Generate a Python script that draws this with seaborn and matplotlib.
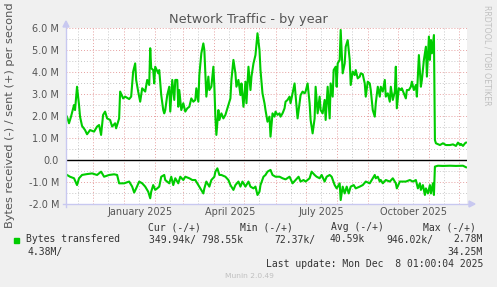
import matplotlib
matplotlib.use("Agg")
import matplotlib.pyplot as plt
import matplotlib.dates as mdates
from matplotlib.ticker import MultipleLocator, NullFormatter, FuncFormatter
from matplotlib.patches import Polygon, Rectangle
from matplotlib.lines import Line2D
import matplotlib.transforms as mtransforms
import seaborn as sns
import pandas as pd
import numpy as np

# ---------------- data (values in M bytes/s) ----------------
window_start = "2024-11-04"
window_days = 400

sent_days = [1, 3, 5, 8, 9, 11, 13, 14, 16, 19, 21, 24, 28, 31, 33, 35, 37, 39, 41, 44,
             46, 49, 50, 53, 54, 57, 59, 63, 65, 67, 69, 70, 72, 74, 76, 79, 81, 83, 84, 85,
             87, 88, 89, 92, 93, 95, 97, 98, 99, 101, 103, 104, 106, 108, 109, 111, 112, 113, 115, 117,
             119, 121, 123, 125, 127, 129, 130, 132, 133, 135, 137, 138, 140, 142, 143, 145, 147, 148, 149, 150,
             152, 153, 155, 157, 159, 160, 162, 164, 165, 167, 169, 170, 172, 174, 175, 177, 179, 180, 182, 184,
             185, 187, 189, 191, 193, 194, 196, 198, 199, 201, 203, 204, 206, 208, 209, 211, 213, 214, 216, 218,
             219, 221, 223, 224, 226, 228, 229, 231, 233, 234, 236, 238, 239, 241, 243, 244, 246, 248, 249, 251,
             253, 254, 256, 258, 259, 261, 263, 264, 266, 267, 269, 270, 271, 273, 274, 276, 278, 279, 281, 283,
             284, 286, 288, 289, 291, 293, 294, 296, 298, 299, 301, 303, 304, 306, 308, 309, 311, 313, 314, 316,
             318, 319, 321, 323, 324, 326, 328, 329, 330, 332, 334, 335, 337, 339, 340, 342, 344, 345, 347, 349,
             350, 352, 354, 355, 357, 359, 360, 362, 363, 364, 365, 367, 368, 369, 373, 376, 379, 383, 386, 389,
             391, 393, 394, 396, 398, 399]
sent_values = [1.97, 1.67, 1.97, 2.50, 2.27, 3.33, 2.50, 1.97, 1.55, 1.36, 1.17, 1.36, 1.29, 1.52, 1.59, 1.14, 2.05, 2.20, 1.89, 1.82,
               1.52, 1.67, 1.44, 1.89, 3.11, 2.80, 2.88, 2.77, 2.88, 4.02, 4.39, 3.64, 3.11, 2.65, 3.26, 3.11, 3.64, 3.41, 5.08, 4.17,
               4.09, 3.48, 4.24, 3.94, 4.09, 2.95, 2.27, 2.12, 2.27, 2.95, 3.33, 2.20, 3.64, 2.73, 3.64, 3.64, 2.42, 3.18, 2.27, 2.58,
               2.20, 2.35, 2.42, 2.80, 2.65, 2.73, 3.26, 2.65, 3.86, 4.85, 5.30, 5.00, 2.88, 3.79, 3.18, 3.33, 4.24, 3.33, 1.97, 1.14,
               2.27, 1.82, 2.12, 1.89, 2.05, 2.20, 2.50, 2.80, 3.64, 4.55, 3.94, 3.33, 3.64, 2.95, 3.48, 2.42, 3.56, 2.58, 4.24, 3.18,
               3.79, 4.39, 4.77, 5.76, 5.00, 4.09, 3.03, 2.58, 2.27, 1.74, 1.97, 1.06, 2.12, 1.97, 2.20, 2.05, 2.12, 1.97, 2.12, 2.35,
               2.65, 2.73, 2.88, 2.58, 3.03, 3.48, 2.95, 1.89, 2.58, 2.95, 3.11, 3.03, 3.11, 3.48, 2.58, 1.82, 1.21, 1.89, 3.33, 2.12,
               2.88, 2.27, 2.12, 2.73, 1.82, 3.33, 1.89, 3.48, 2.88, 4.09, 4.24, 3.33, 4.39, 4.55, 5.91, 3.94, 4.39, 5.15, 5.45, 4.55,
               3.41, 4.02, 3.86, 4.09, 3.71, 3.79, 3.94, 3.90, 3.48, 2.88, 3.56, 3.48, 3.18, 2.27, 1.97, 2.58, 3.33, 2.88, 3.33, 3.11,
               3.64, 2.88, 3.03, 2.65, 3.33, 2.73, 3.11, 4.24, 2.35, 3.26, 3.18, 3.26, 3.03, 2.80, 3.18, 3.18, 3.33, 3.56, 3.18, 3.41,
               2.88, 4.77, 3.33, 3.64, 4.55, 5.15, 3.79, 5.61, 4.55, 5.45, 4.85, 5.68, 0.91, 0.76, 0.68, 0.76, 0.68, 0.68, 0.71, 0.64,
               0.79, 0.68, 0.73, 0.64, 0.76, 0.79]

recv_days = [1, 4, 8, 11, 13, 16, 21, 26, 31, 35, 38, 43, 48, 51, 53, 58, 63, 66, 68, 70,
             73, 76, 79, 82, 84, 85, 87, 89, 91, 93, 95, 98, 99, 103, 105, 107, 109, 112, 114, 117,
             119, 123, 126, 129, 132, 134, 137, 138, 140, 143, 145, 148, 149, 151, 153, 155, 159, 162, 164, 167,
             169, 172, 174, 176, 179, 182, 184, 187, 189, 191, 193, 194, 197, 199, 201, 204, 206, 209, 213, 216,
             219, 223, 226, 229, 232, 234, 237, 239, 243, 245, 248, 250, 253, 255, 258, 260, 263, 265, 268, 270,
             273, 274, 276, 278, 280, 282, 284, 287, 289, 293, 296, 299, 303, 306, 308, 309, 311, 313, 314, 316,
             319, 323, 326, 329, 330, 333, 336, 339, 343, 346, 349, 351, 353, 354, 356, 358, 359, 361, 363, 364,
             366, 367, 368, 371, 376, 383, 389, 396, 399]
recv_values = [0.68, 0.76, 0.83, 1.14, 0.83, 0.68, 0.64, 0.61, 0.68, 0.53, 0.76, 0.68, 0.65, 0.68, 1.06, 1.06, 0.98, 1.21, 1.48, 1.29,
               0.98, 1.06, 1.21, 1.44, 1.74, 1.44, 1.14, 1.36, 1.29, 1.21, 0.76, 0.68, 0.91, 1.06, 0.76, 1.14, 0.83, 1.06, 0.76, 0.91,
               0.76, 0.83, 0.91, 0.91, 1.14, 1.29, 1.52, 1.29, 0.98, 1.21, 0.91, 0.76, 0.53, 0.38, 0.68, 0.68, 0.76, 0.91, 1.14, 1.36,
               1.14, 0.98, 1.21, 0.98, 1.21, 0.98, 1.21, 1.29, 1.21, 1.59, 1.44, 1.14, 0.76, 0.68, 0.53, 0.45, 0.68, 0.76, 0.76, 0.83,
               0.88, 0.76, 1.06, 0.91, 0.76, 0.98, 0.91, 0.98, 0.83, 0.53, 0.68, 0.76, 0.83, 0.68, 0.98, 0.76, 0.68, 0.76, 1.14, 1.29,
               1.06, 1.82, 1.21, 1.52, 1.21, 1.52, 1.21, 1.14, 1.29, 1.21, 1.14, 0.98, 1.06, 0.83, 0.68, 0.83, 0.76, 0.98, 0.91, 1.06,
               0.91, 0.98, 0.83, 1.06, 1.29, 0.98, 0.98, 0.98, 0.91, 0.98, 0.91, 1.29, 1.06, 1.36, 1.14, 1.59, 1.29, 1.52, 1.14, 1.52,
               1.06, 1.59, 0.30, 0.26, 0.27, 0.26, 0.27, 0.26, 0.33]

quarter_labels = ["January 2025", "April 2025", "July 2025", "October 2025"]
quarter_starts = ["2025-01-01", "2025-04-01", "2025-07-01", "2025-10-01"]

legend_name = "Bytes transfered"
stat_headers = ["Cur (-/+)", "Min (-/+)", "Avg (-/+)", "Max (-/+)"]
last_update = "Last update: Mon Dec  8 01:00:04 2025"

# ---------------- figure ----------------
W, H = 497, 287
def fx(p): return p / W
def fy(p): return 1 - p / H

fig = plt.figure(figsize=(W / 100, H / 100), dpi=100, facecolor="#F0F0F0")
ax = fig.add_axes([fx(66), fy(204), (467 - 66) / W, 176 / H])
ax.set_facecolor("white")

start = pd.Timestamp(window_start)
df_sent = pd.DataFrame({"date": start + pd.to_timedelta(sent_days, unit="D"), "value": sent_values})
df_recv = pd.DataFrame({"date": start + pd.to_timedelta(recv_days, unit="D"), "value": -np.array(recv_values)})

GREEN = "#00CC00"
sns.lineplot(data=df_sent, x="date", y="value", color=GREEN, lw=1.5, ax=ax, estimator=None, zorder=3)
sns.lineplot(data=df_recv, x="date", y="value", color=GREEN, lw=1.5, ax=ax, estimator=None, zorder=3)

ax.set_xlim(start, start + pd.Timedelta(days=window_days))
ax.set_ylim(-2, 6)
ax.set_xlabel("")
ax.set_ylabel("")

ax.xaxis.set_major_locator(mdates.MonthLocator())
ax.xaxis.set_minor_locator(mdates.MonthLocator(bymonthday=16))
ax.xaxis.set_major_formatter(NullFormatter())
ax.xaxis.set_minor_formatter(NullFormatter())
ax.yaxis.set_major_locator(MultipleLocator(1))
ax.yaxis.set_minor_locator(MultipleLocator(0.5))
ax.yaxis.set_major_formatter(FuncFormatter(lambda v, p: "0.0" if abs(v) < 1e-9 else f"{v:.1f} M"))

ax.grid(which="minor", color="#C8C8C8", linestyle=(0, (1, 2)), linewidth=0.7)
ax.grid(which="major", color="#E6A0A0", linestyle=(0, (1, 2)), linewidth=0.7)
ax.set_axisbelow(True)
ax.tick_params(axis="both", which="both", length=0)
ax.tick_params(axis="y", labelsize=7, labelcolor="#555555", pad=5)
for s in ax.spines.values():
    s.set_visible(False)

ax.axhline(0, color="black", lw=1.0, zorder=2)

trans = mtransforms.blended_transform_factory(ax.transData, ax.transAxes)
for lab, qs in zip(quarter_labels, quarter_starts):
    d = pd.Timestamp(qs) + pd.Timedelta(days=16)
    ax.text(mdates.date2num(d), -8 / 176, lab, transform=trans, ha="center", va="center",
            fontsize=7, color="#555555", clip_on=False)

# axes lines and arrows
AXC = "#C8C8F0"
fig.add_artist(Line2D([fx(66), fx(66)], [fy(207), fy(25)], color=AXC, lw=1, transform=fig.transFigure))
fig.add_artist(Line2D([fx(63), fx(470)], [fy(204), fy(204)], color=AXC, lw=1, transform=fig.transFigure))
fig.add_artist(Polygon([[fx(63), fy(27)], [fx(69), fy(27)], [fx(66), fy(21)]], closed=True,
                       color=AXC, transform=fig.transFigure))
fig.add_artist(Polygon([[fx(469), fy(201)], [fx(469), fy(207)], [fx(475), fy(204)]], closed=True,
                       color=AXC, transform=fig.transFigure))

# titles
fig.text(fx(248), fy(19), "Network Traffic - by year", ha="center", va="center", fontsize=9.3, color="#555555")
fig.text(fx(10), fy(228), "Bytes received (-) / sent (+) per second", rotation=90,
         ha="center", va="bottom", fontsize=8.2, color="#555555")
fig.text(fx(487), fy(5), "RRDTOOL / TOBI OETIKER", rotation=-90, ha="center", va="top",
         fontsize=5.7, color="#C0C0C0")

# legend block
mono = dict(family="DejaVu Sans Mono", fontsize=7, color="#333333", va="center")
fig.add_artist(Rectangle((fx(14), fy(243)), 5 / W, 5 / H, color=GREEN, transform=fig.transFigure))
for h, xp in zip(stat_headers, [148, 240, 331, 423]):
    fig.text(fx(xp), fy(227), h, ha="left", **mono)
fig.text(fx(26.5), fy(239.5), legend_name, ha="left", **mono)
fig.text(fx(149), fy(239.5), "349.94k/ 798.55k", ha="left", **mono)
fig.text(fx(274.3), fy(239.5), "72.37k/", ha="left", **mono)
fig.text(fx(329), fy(239.5), "40.59k", ha="left", **mono)
fig.text(fx(386), fy(239.5), "946.02k/", ha="left", **mono)
fig.text(fx(483), fy(239.5), "2.78M", ha="right", **mono)
fig.text(fx(28), fy(251.7), "4.38M/", ha="left", **mono)
fig.text(fx(483), fy(251.7), "34.25M", ha="right", **mono)
fig.text(fx(483), fy(263.7), last_update, ha="right", **mono)
fig.text(fx(249), fy(276), "Munin 2.0.49", ha="center", va="center", fontsize=5.4, color="#C0C0C0")

fig.savefig("out.png", dpi=100, facecolor=fig.get_facecolor())
